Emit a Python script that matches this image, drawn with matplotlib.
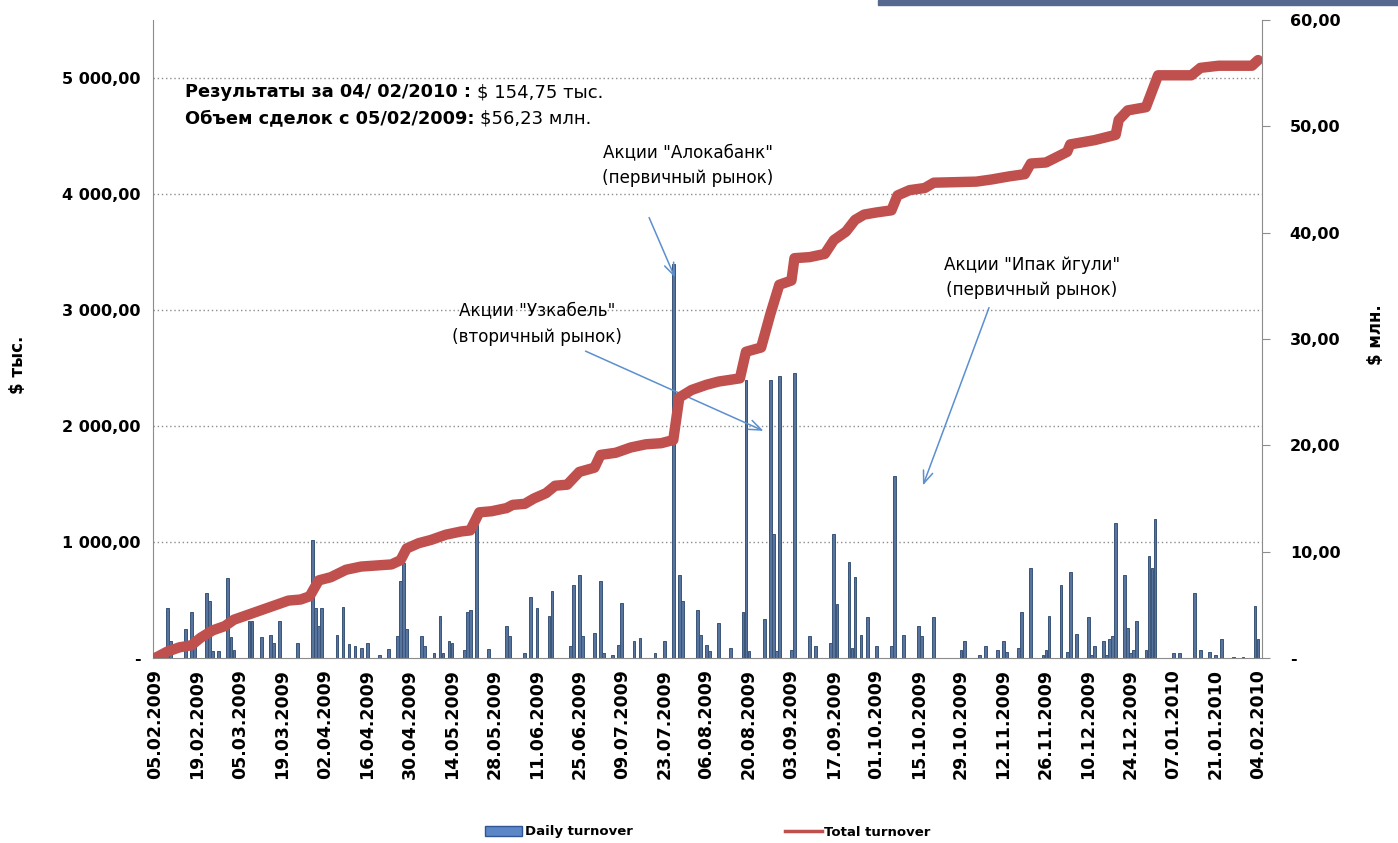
import datetime as dt

import matplotlib
matplotlib.use("Agg")
import matplotlib.pyplot as plt
from matplotlib.patches import Patch, Rectangle
from matplotlib.lines import Line2D

plt.rcParams['font.family'] = ['DejaVu Sans']

start = dt.date(2009, 2, 5)

# daily turnover, $ thousand (day offset from 05.02.2009)
bar_days = [4, 5, 10, 12, 13, 17, 18, 19, 21, 24, 25, 26, 31, 32, 35, 38, 39, 41,
            47, 52, 53, 54, 55, 60, 62, 64, 66, 68, 70, 74, 77, 80, 81, 82, 83,
            88, 89, 92, 94, 95, 97, 98, 102, 103, 104, 106, 110, 116, 117, 122,
            124, 126, 130, 131, 137, 138, 140, 141, 145, 147, 148, 151, 153, 154,
            158, 160, 165, 168, 171, 173, 174, 179, 180, 182, 183, 186, 190, 194,
            195, 196, 201, 203, 204, 205, 206, 210, 211, 216, 218, 223, 224, 225,
            229, 230, 231, 233, 235, 238, 243, 244, 247, 252, 253, 257, 266, 267,
            272, 274, 278, 280, 281, 285, 286, 289, 293, 294, 295, 299, 301, 302,
            304, 308, 309, 310, 313, 314, 315, 316, 317, 320, 321, 322, 323, 324,
            327, 328, 329, 330, 336, 338, 343, 345, 348, 350, 352, 356, 359, 363, 364]
bar_values = [430, 150, 250, 400, 100, 560, 490, 60, 60, 690, 185, 70, 315, 315, 180, 195, 130, 320,
              130, 1015, 430, 275, 430, 195, 440, 125, 105, 85, 130, 25, 75, 190, 660, 820, 250,
              190, 100, 45, 365, 40, 145, 130, 70, 395, 410, 1150, 75, 275, 190, 45,
              530, 430, 365, 575, 105, 630, 715, 190, 215, 660, 45, 30, 110, 470,
              145, 175, 45, 145, 3400, 715, 490, 410, 200, 110, 60, 305, 85, 395,
              2400, 60, 335, 2395, 1070, 60, 2430, 70, 2455, 190, 105, 130, 1070, 465,
              830, 90, 700, 200, 350, 105, 105, 1565, 200, 275, 190, 350, 70, 145,
              25, 105, 70, 145, 55, 90, 395, 775, 25, 70, 365, 630, 55, 745,
              205, 350, 25, 105, 145, 25, 160, 190, 1160, 715, 260, 40, 70, 320,
              70, 880, 775, 1200, 40, 40, 560, 70, 55, 25, 160, 10, 10, 450, 160]

# total turnover, $ million
total_days = [0, 4, 8, 12, 15, 19, 23, 26, 30, 35, 40, 44, 48, 51, 54, 58, 63, 68, 73, 78,
              81, 83, 87, 91, 96, 101, 104, 107, 111, 116, 118, 122, 125, 129, 132, 136,
              140, 145, 147, 152, 157, 162, 167, 171, 173, 177, 182, 186, 193, 195, 200,
              203, 206, 210, 211, 216, 221, 224, 228, 231, 234, 238, 243, 245, 249, 254,
              257, 271, 276, 282, 287, 289, 294, 301, 302, 310, 317, 318, 321, 327, 331,
              342, 345, 351, 362, 364]
total_values = [0.0, 0.6, 1.0, 1.2, 1.9, 2.6, 3.0, 3.6, 4.0, 4.5, 5.0, 5.4, 5.5, 5.8, 7.3, 7.6,
                8.3, 8.6, 8.7, 8.8, 9.2, 10.3, 10.8, 11.1, 11.6, 11.9, 12.0, 13.7, 13.8, 14.1,
                14.4, 14.5, 15.0, 15.5, 16.2, 16.3, 17.5, 17.9, 19.1, 19.3, 19.8, 20.1, 20.2,
                20.5, 24.5, 25.2, 25.7, 26.0, 26.3, 28.8, 29.2, 32.3, 35.1, 35.5, 37.6, 37.7,
                38.0, 39.3, 40.1, 41.2, 41.7, 41.9, 42.1, 43.5, 44.0, 44.2, 44.7, 44.8, 45.0,
                45.3, 45.5, 46.5, 46.6, 47.6, 48.3, 48.7, 49.2, 50.6, 51.5, 51.8, 54.8, 54.8,
                55.5, 55.7, 55.7, 56.23]

tick_days = list(range(0, 365, 14))
tick_labels = [(start + dt.timedelta(days=d)).strftime("%d.%m.%Y") for d in tick_days]

left_ticks = [0, 1000, 2000, 3000, 4000, 5000]
left_labels = ['-', '1 000,00', '2 000,00', '3 000,00', '4 000,00', '5 000,00']
right_ticks = [0, 10, 20, 30, 40, 50, 60]
right_labels = ['-', '10,00', '20,00', '30,00', '40,00', '50,00', '60,00']

W, H = 1398, 843


def fx(x):
    return x / W


def fy(y):
    return 1 - y / H


fig = plt.figure(figsize=(13.98, 8.43), dpi=100)
fig.patches.append(Rectangle((fx(878), fy(5)), 1 - fx(878), 5 / H, transform=fig.transFigure,
                             color='#56688F', zorder=0))

ax = fig.add_axes([fx(153), fy(658), (1262 - 153) / W, (658 - 20) / H])
for v in left_ticks[1:]:
    ax.axhline(v, color='#8C8C8C', linestyle=(0, (1, 2)), linewidth=1, zorder=0)
ax.bar(bar_days, bar_values, width=0.9, color='#56749E', edgecolor='#3A5478', linewidth=0.7, zorder=2)
ax.set_xlim(-0.7, 365.3)
ax.set_ylim(0, 5500)
ax.set_xticks(tick_days)
ax.set_xticklabels(tick_labels, rotation=90, fontsize=12.5, fontweight='bold')
ax.set_yticks(left_ticks)
ax.set_yticklabels(left_labels, fontsize=11.5, fontweight='bold')
ax.tick_params(axis='x', length=0, pad=8)
ax.tick_params(axis='y', length=0, pad=9)
for s in ['top', 'right']:
    ax.spines[s].set_visible(False)
for s in ['left', 'bottom']:
    ax.spines[s].set_color('#8C8C8C')

ax2 = ax.twinx()
ax2.plot(total_days, total_values, color='#C0504D', linewidth=7.5,
         solid_joinstyle='round', solid_capstyle='round')
ax2.set_ylim(0, 60)
ax2.set_yticks(right_ticks)
ax2.set_yticklabels(right_labels, fontsize=11.5, fontweight='bold')
ax2.tick_params(axis='y', length=6, color='#8C8C8C', pad=14)
for s in ['top', 'left', 'bottom']:
    ax2.spines[s].set_visible(False)
ax2.spines['right'].set_color('#8C8C8C')

fig.text(fx(18), fy(365), '$ тыс.', rotation=90, ha='center', va='center', fontsize=12, fontweight='bold')
fig.text(fx(1376), fy(335), '$ млн.', rotation=90, ha='center', va='center', fontsize=12, fontweight='bold')

# summary text: bold part followed by regular part
b1 = fig.text(fx(185), fy(92), 'Результаты за 04/ 02/2010 :', fontsize=12.8, fontweight='bold', va='center')
b2 = fig.text(fx(185), fy(118), 'Объем сделок с 05/02/2009:', fontsize=12.8, fontweight='bold', va='center')
fig.canvas.draw()
r = fig.canvas.get_renderer()
e1 = b1.get_window_extent(r)
e2 = b2.get_window_extent(r)
fig.text((e1.x1 + 6) / W, fy(92), '$ 154,75 тыс.', fontsize=13, va='center')
fig.text((e2.x1 + 5) / W, fy(118), '$56,23 млн.', fontsize=13, va='center')

notes = [
    (688, 152, 'Акции "Алокабанк"'),
    (688, 178, '(первичный рынок)'),
    (537, 310, 'Акции "Узкабель"'),
    (537, 337, '(вторичный рынок)'),
    (1032, 265, 'Акции "Ипак йгули"'),
    (1032, 290, '(первичный рынок)'),
]
for x, y, t in notes:
    fig.text(fx(x), fy(y), t, ha='center', va='center', fontsize=12.1)

arrows = [((648, 215), (676, 280)), ((583, 350), (766, 432)), ((990, 305), (922, 488))]
for (x0, y0), (x1, y1) in arrows:
    ax.annotate('', xy=(fx(x1), fy(y1)), xytext=(fx(x0), fy(y0)),
                xycoords='figure fraction', textcoords='figure fraction',
                arrowprops=dict(arrowstyle='->,head_length=0.9,head_width=0.35',
                                color='#5B8FD0', lw=1.1))

handles = [Patch(facecolor='#5B87C7', edgecolor='#2F5597'),
           Line2D([0], [0], color='#C0504D', lw=2.5)]
fig.legend(handles, ['Daily turnover', 'Total turnover'], loc='center',
           bbox_to_anchor=(fx(708), fy(832)), ncol=2, frameon=False, columnspacing=11.5,
           handlelength=2.8, handletextpad=0.2, prop={'weight': 'bold', 'size': 9.5})

fig.savefig('out.png', dpi=100)
